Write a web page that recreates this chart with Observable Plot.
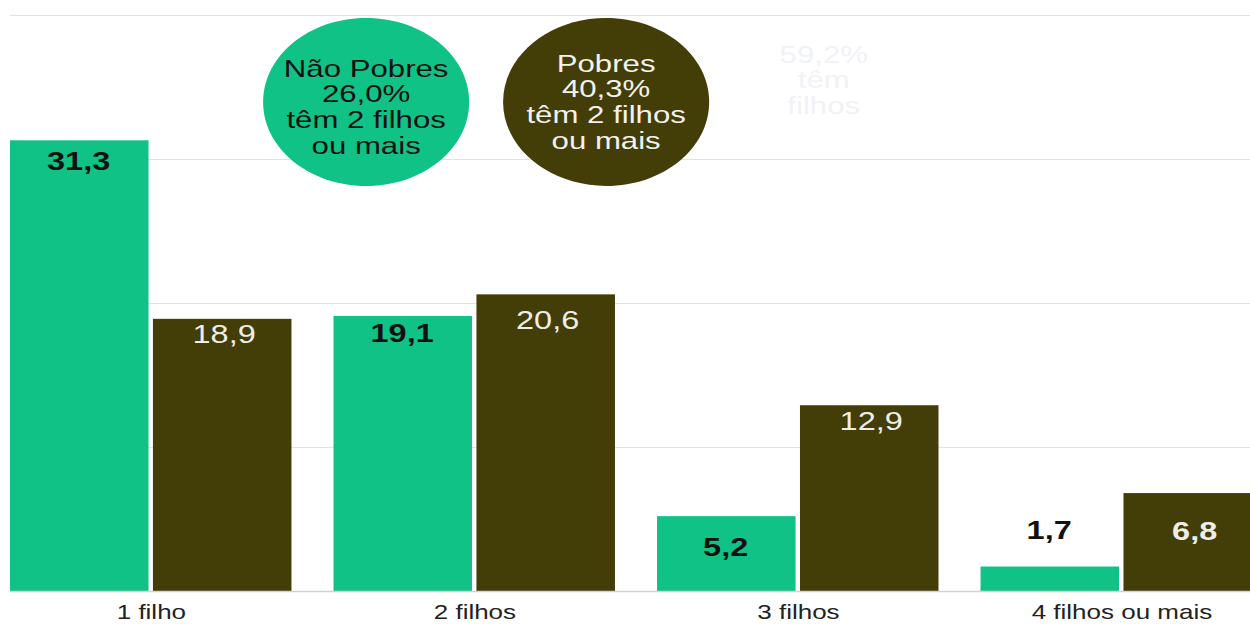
<!DOCTYPE html>
<html>
<head>
<meta charset="utf-8">
<script src="https://cdn.jsdelivr.net/npm/d3@7"></script>
<script src="https://cdn.jsdelivr.net/npm/@observablehq/plot@0.6"></script>
<style>
  html, body { margin: 0; padding: 0; background: #fff; overflow: hidden; }
  #chart { width: 1250px; height: 624px; overflow: hidden; }
</style>
</head>
<body>
<div id="chart"></div>
<script>
// ---- data ----
const groups = ["1 filho", "2 filhos", "3 filhos", "4 filhos ou mais"];
const seriesNames = ["Não Pobres", "Pobres"];
const naoPobres = [31.3, 19.1, 5.2, 1.7];
const pobres = [18.9, 20.6, 12.9, 6.8];
const gridTicks = [10, 20, 30, 40];
const bubbleTexts = ["Não Pobres\n26,0%\ntêm 2 filhos\nou mais", "Pobres\n40,3%\ntêm 2 filhos\nou mais"];
const bubbleGroup = ["2 filhos", "2 filhos"];
const bubbleLevel = [34, 34];
const faintText = "59,2%\ntêm\nfilhos";
const faintGroup = "3 filhos";
const faintLevel = 35.5;

// ---- layout / styles ----
const W = 962;                 // internal width, stretched horizontally to 1250
const S = 1250 / W;
const colors = ["#10c286", "#433d08"];
const labelDy = [[21, 18, 31, -36], [15.5, 26, 16, 38]];
const labelBold = [[true, true, true, true], [false, false, false, true]];
const labelFill = ["#111", "#eeeee6"];
const bubbleDx = [-83.7, 101];
const bubbleDy = [5, 0];
const bubbleTextFill = ["#111", "#f2f2ee"];

const fmt = v => d3.format(".1f")(v).replace(".", ",");

const rows = [];
groups.forEach((g, i) => {
  rows.push({group: g, series: seriesNames[0], si: 0, gi: i, value: naoPobres[i]});
  rows.push({group: g, series: seriesNames[1], si: 1, gi: i, value: pobres[i]});
});

function ellipseSymbol(aspect) {
  return {
    draw(ctx, size) {
      const ry = Math.sqrt(size / Math.PI), rx = ry * aspect, k = 0.5523;
      ctx.moveTo(rx, 0);
      ctx.bezierCurveTo(rx, k * ry, k * rx, ry, 0, ry);
      ctx.bezierCurveTo(-k * rx, ry, -rx, k * ry, -rx, 0);
      ctx.bezierCurveTo(-rx, -k * ry, -k * rx, -ry, 0, -ry);
      ctx.bezierCurveTo(k * rx, -ry, rx, -k * ry, rx, 0);
      ctx.closePath();
    }
  };
}

const half = 110;   // inset splitting each group band into two bars
const labelShift = 56;

const labelMarks = rows.map(d => Plot.text([d], {
  x: "group", y: "value", text: r => fmt(r.value),
  dx: d.si === 0 ? -labelShift : labelShift,
  dy: labelDy[d.si][d.gi],
  fill: labelFill[d.si],
  fontSize: 25,
  fontWeight: labelBold[d.si][d.gi] ? "bold" : "normal"
}));

const bubbles = bubbleTexts.map((t, i) => ({group: bubbleGroup[i], level: bubbleLevel[i], text: t, i}));

const chart = Plot.plot({
  width: W,
  height: 624,
  marginTop: 15,
  marginBottom: 33,
  marginLeft: 10 / S,
  marginRight: 0,
  style: {fontFamily: "'Liberation Sans', Arial, sans-serif", fontSize: "20px", color: "#222", background: "white"},
  x: {domain: groups, range: [10 / S, 1262 / S], paddingInner: 0.13, paddingOuter: 0, round: false,
      tickSize: 0, tickPadding: 13, label: null},
  y: {domain: [0, 40], axis: null},
  marks: [
    Plot.ruleY(gridTicks, {stroke: "#e2e2e2", strokeWidth: 1.2}),
    Plot.barY(rows.filter(d => d.si === 0), {x: "group", y: "value", fill: colors[0], insetRight: half}),
    Plot.barY(rows.filter(d => d.si === 1), {x: "group", y: "value", fill: colors[1], insetLeft: half}),
    Plot.ruleY([0], {stroke: "#d2d2d2", strokeWidth: 1.6}),
    ...labelMarks,
    ...bubbles.map(b => Plot.dot([b], {
      x: "group", y: "level", dx: bubbleDx[b.i], r: 84,
      symbol: ellipseSymbol(79.3 / 84), fill: colors[b.i], stroke: "none"
    })),
    ...bubbles.map(b => Plot.text([b], {
      x: "group", y: "level", dx: bubbleDx[b.i], dy: bubbleDy[b.i], text: "text",
      fill: bubbleTextFill[b.i], fontSize: 24, lineHeight: 1.07
    })),
    Plot.text([{group: faintGroup, level: faintLevel, text: faintText}], {
      x: "group", y: "level", dx: 19.5, text: "text",
      fill: "#f1f2f6", fontSize: 24, lineHeight: 1.05
    })
  ]
});

chart.style.transformOrigin = "0 0";
chart.style.transform = `scaleX(${S})`;
chart.style.maxWidth = "none";
document.getElementById("chart").appendChild(chart);
</script>
</body>
</html>
